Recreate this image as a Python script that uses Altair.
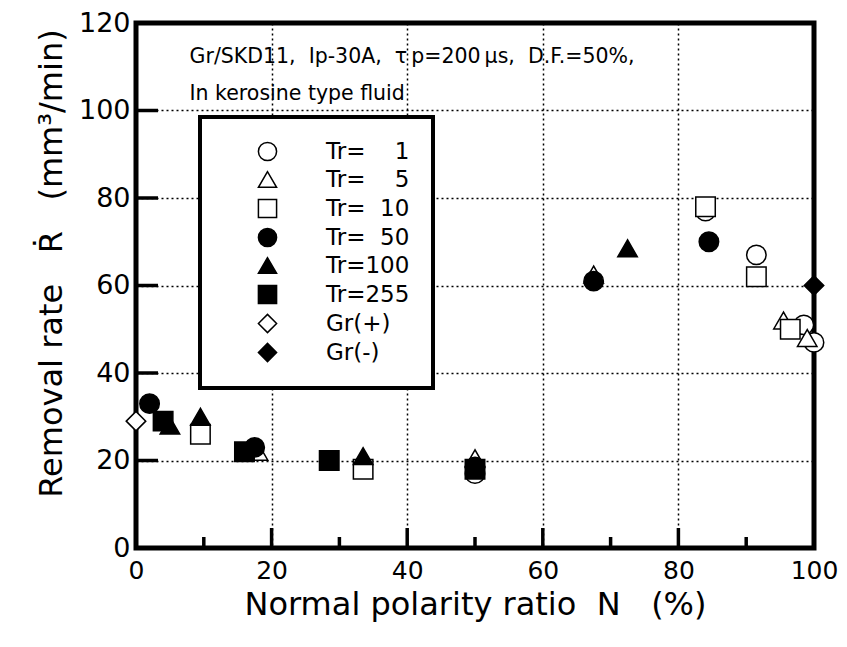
import altair as alt
import pandas as pd

series_names = ["Tr=\u2007\u20071", "Tr=\u2007\u20075", "Tr=\u200710", "Tr=\u200750",
                "Tr=100", "Tr=255", "Gr(+)", "Gr(-)"]
series_shapes = ["circle", "triangle-up", "square", "circle",
                 "triangle-up", "square", "diamond", "diamond"]
series_fills = ["white", "white", "white", "black", "black", "black", "white", "black"]
series_strokes = ["black"] * 8

tr1_x = [50, 84, 91.5, 98.5, 100]
tr1_y = [17, 77, 67, 51, 47]
tr5_x = [18, 50, 67.5, 95.5, 99]
tr5_y = [22, 20.5, 62.5, 52, 48]
tr10_x = [9.5, 33.5, 84, 91.5, 96.5]
tr10_y = [26, 18, 78, 62, 50]
tr50_x = [2, 17.5, 50, 67.5, 84.5]
tr50_y = [33, 23, 18.5, 61, 70]
tr100_x = [5, 9.5, 33.5, 72.5]
tr100_y = [28, 30, 21, 68.5]
tr255_x = [4, 16, 28.5, 50]
tr255_y = [29, 22, 20, 18]
grp_x = [0]
grp_y = [29]
grm_x = [100]
grm_y = [60]

x_major_ticks = [20, 40, 60, 80]
x_minor_ticks = [10, 30, 50, 70, 90]
y_major_ticks = [20, 40, 60, 80, 100]
x_label_values = [0, 20, 40, 60, 80, 100]
y_label_values = [0, 20, 40, 60, 80, 100, 120]

note_lines = ["Gr/SKD11,\u00a0\u00a0Ip-30A,\u00a0\u00a0\u03c4\u2009p=200\u2009\u03bcs,\u00a0\u00a0D.F.=50%,",
              "In kerosine type fluid"]

all_x = [tr1_x, tr5_x, tr10_x, tr50_x, tr100_x, tr255_x, grp_x, grm_x]
all_y = [tr1_y, tr5_y, tr10_y, tr50_y, tr100_y, tr255_y, grp_y, grm_y]
rows = []
for name, xs, ys in zip(series_names, all_x, all_y):
    for xv, yv in zip(xs, ys):
        rows.append({"series": name, "N": xv, "R": yv})
df = pd.DataFrame(rows)
df["idx"] = range(len(df))

FONT = "DejaVu Sans"
xscale = alt.Scale(domain=[0, 100], nice=False, zero=False)
yscale = alt.Scale(domain=[0, 120], nice=False, zero=False)

legend = alt.Legend(
    title=None, orient="none", legendX=64, legendY=94,
    strokeColor="black", fillColor="white",
    padding=23, symbolOffset=33, labelOffset=47,
    rowPadding=4, symbolSize=330, labelFontSize=23,
    labelFont=FONT, labelColor="black",
    symbolStrokeColor="black", symbolStrokeWidth=1.5, symbolOpacity=1,
)

points = alt.Chart(df).mark_point(
    filled=True, strokeWidth=1.5, opacity=1, size=380
).encode(
    x=alt.X("N:Q", scale=xscale,
            axis=alt.Axis(values=x_label_values,
                          title="Normal polarity ratio\u00a0\u00a0N\u00a0\u00a0\u00a0(%)",
                          ticks=False, domain=False, labelFontSize=25, labelFont=FONT,
                          labelPadding=10, titleFontSize=32, titleFont=FONT, titleFontWeight="normal",
                          titlePadding=6, labelColor="black", titleColor="black",
                          grid=True, gridColor="black", gridDash=[2, 3], gridWidth=1.5,
                          labelFlush=False)),
    y=alt.Y("R:Q", scale=yscale,
            axis=alt.Axis(values=y_label_values,
                          title="Removal rate\u00a0\u00a0\u00a0\u1e58\u00a0\u00a0\u00a0(mm\u00b3/min)",
                          ticks=False, domain=False, labelFontSize=27, labelFont=FONT,
                          labelPadding=6, titleFontSize=32, titleFont=FONT, titleFontWeight="normal",
                          titlePadding=10, titleY=240, labelColor="black", titleColor="black",
                          grid=True, gridColor="black", gridDash=[2, 3], gridWidth=1.5,
                          labelFlush=False)),
    shape=alt.Shape("series:N", scale=alt.Scale(domain=series_names, range=series_shapes),
                    sort=series_names, legend=legend),
    fill=alt.Fill("series:N", scale=alt.Scale(domain=series_names, range=series_fills),
                  sort=series_names, legend=legend),
    stroke=alt.Stroke("series:N", scale=alt.Scale(domain=series_names, range=series_strokes),
                      sort=series_names, legend=legend),
    order=alt.Order("idx:Q"),
)

tick_df_xmaj = pd.DataFrame({"v": x_major_ticks})
tick_df_xmin = pd.DataFrame({"v": x_minor_ticks})
tick_df_y = pd.DataFrame({"v": y_major_ticks})

xmaj = alt.Chart(tick_df_xmaj).mark_rule(strokeWidth=3.5, color="black", y2Offset=-20).encode(
    x=alt.X("v:Q", scale=xscale), y=alt.datum(0, scale=yscale), y2=alt.datum(0))
xmin = alt.Chart(tick_df_xmin).mark_rule(strokeWidth=3.5, color="black", y2Offset=-11).encode(
    x=alt.X("v:Q", scale=xscale), y=alt.datum(0, scale=yscale), y2=alt.datum(0))
ymaj = alt.Chart(tick_df_y).mark_rule(strokeWidth=3.5, color="black", x2Offset=22).encode(
    y=alt.Y("v:Q", scale=yscale), x=alt.datum(0, scale=xscale), x2=alt.datum(0))

note_df = pd.DataFrame({"N": [7.9], "R": [112.3], "t": [note_lines]})
note = alt.Chart(note_df).mark_text(align="left", baseline="middle", fontSize=20.5, font=FONT,
                                    lineHeight=37, color="black").encode(
    x=alt.X("N:Q", scale=xscale), y=alt.Y("R:Q", scale=yscale), text="t")

chart = alt.layer(xmaj, xmin, ymaj, note, points).properties(
    width=678, height=525, autosize="none",
    padding={"left": 128, "top": 15, "right": 25, "bottom": 90},
).configure_view(stroke="black", strokeWidth=5).configure_legend(
    strokeWidth=4
)

chart.save("out.html", embed_options={"renderer": "svg", "actions": False})
